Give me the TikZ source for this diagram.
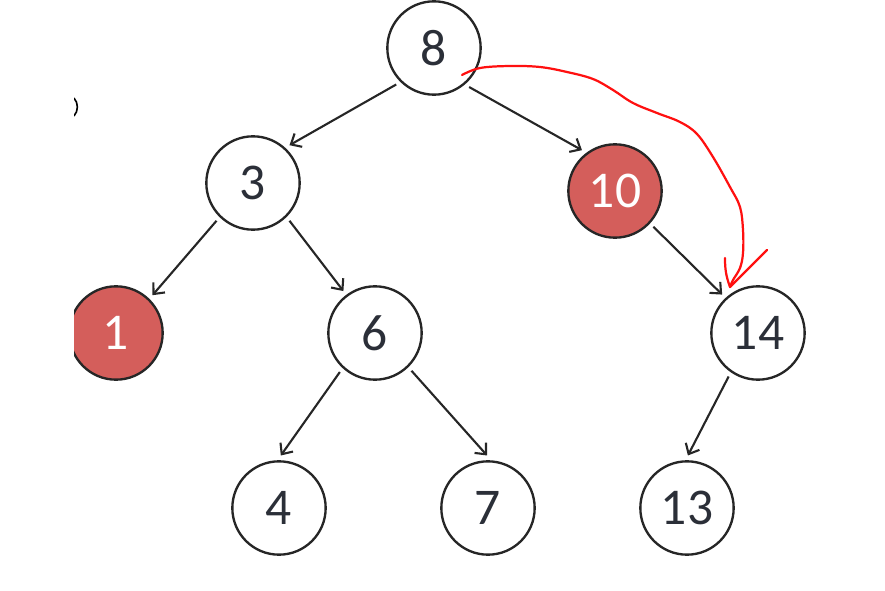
\documentclass[tikz,border=0pt]{standalone}
\usepackage{fontspec}
\setmainfont{Carlito}
\usepackage{tikz}
\usetikzlibrary{arrows.meta}
\definecolor{rbred}{HTML}{D45E5B}
\definecolor{keytext}{HTML}{2B2F38}
\definecolor{penred}{HTML}{FF1010}

\begin{document}
\begin{tikzpicture}[x=0.03cm,y=-0.03cm]
    \useasboundingbox (0,0) rectangle (885,591);
    \begin{scope}
    \clip (74,0) rectangle (885,591);
    \draw[line width=1.4pt] (74,98) to[bend left=40] (74,116);
    \begin{scope}[every node/.style={circle,draw=black!85,line width=2pt,minimum size=2.8cm,outer sep=5pt,text=keytext,font=\fontsize{44}{46}\selectfont}]
    \node (a) at (434,48) {8};
    \node (b) at (253,183) {3};
    \node[fill=rbred,text=white] (c) at (615,191) {10};
    \node[fill=rbred,text=white] (d) at (116,333) {1};
    \node (e) at (375,333) {6};
    \node (f) at (758,333) {14};
    \node (g) at (279,508) {4};
    \node (h) at (488,508) {7};
    \node (i) at (687,508) {13};
    \end{scope}
    \begin{scope}[every edge/.style={draw=black!85,line width=1.8pt,-{Straight Barb[length=2.6mm,width=4.6mm]}}]
    \path (a.224) edge (b.46);
    \path (a.312) edge (c.129);
    \path (b.226) edge (d.46);
    \path (b.314) edge (e.127);
    \path (c.317) edge (f.133);
    \path (e.228) edge (g.88);
    \path (e.314) edge (h.91);
    \path (f.236) edge (i.89);
    \end{scope}
    \end{scope}
    % hand drawn hint
    \coordinate (penstart) at (462,75);
    \coordinate (pentip) at (730,287);
    \draw[penred,line width=1.9pt,line cap=round,line join=round] plot[smooth,tension=0.6] coordinates {(penstart) (480,68) (510,66) (540,67) (567,72) (593,79) (613,90) (633,103) (657,113) (680,122) (697,134) (713,157) (730,187) (740,207) (743,230) (743,253) (740,268) (733,280) (pentip)};
    \draw[penred,line width=1.9pt,line cap=round,line join=round] (725,258) to[bend right=10] (pentip) -- (767,250);
\end{tikzpicture}
\end{document}
